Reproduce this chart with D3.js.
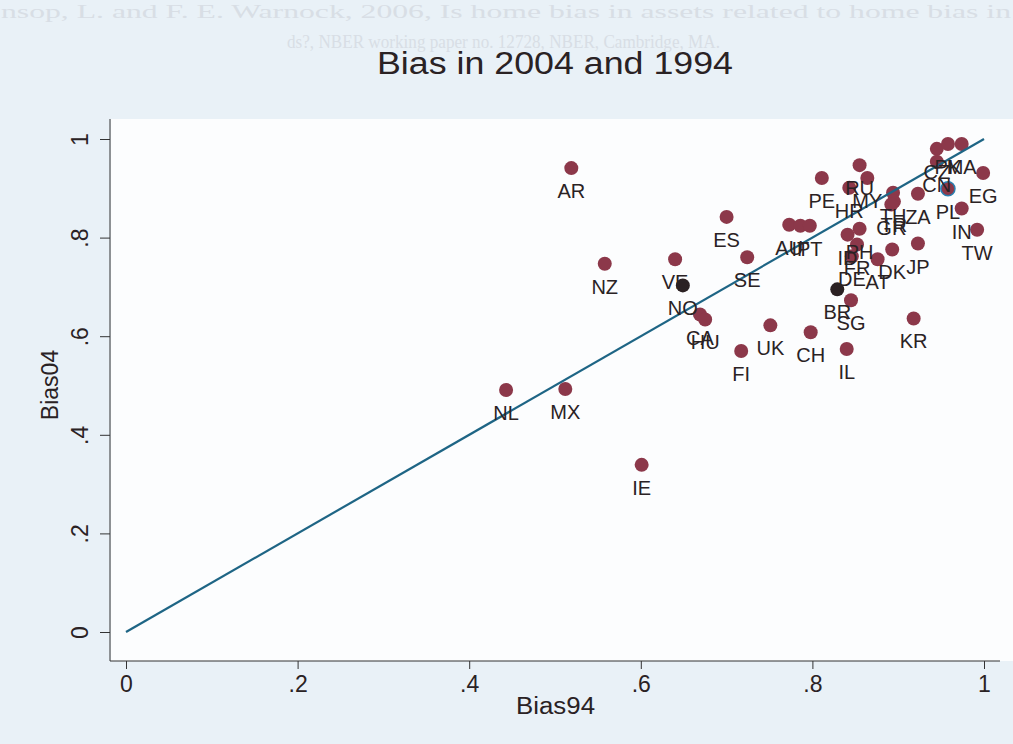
<!DOCTYPE html>
<html><head><meta charset="utf-8">
<script src="https://cdn.jsdelivr.net/npm/d3@7"></script>
<style>body{margin:0;background:#e9f1f7;}svg{display:block;}</style>
</head><body>
<svg id="c" width="1013" height="744"></svg>
<script>
const countries = ["AR","NZ","VE","NO","ES","SE","CA","HU","FI","UK","CH","IL","KR","SG","BR","NL","MX","IE",
  "AU","IT","PT","PE","HR","RU","MY","TH","TR","GR","ZA","CZ","PK","MA","CN","EG","PL","IN","TW",
  "ID","FR","PH","DE","AT","DK","JP"];
const bias94 = [0.519,0.558,0.640,0.649,0.700,0.724,0.669,0.675,0.717,0.751,0.798,0.840,0.918,0.845,0.829,0.443,0.512,0.601,
  0.773,0.786,0.797,0.811,0.843,0.855,0.864,0.894,0.895,0.892,0.923,0.945,0.958,0.974,0.945,0.999,0.958,0.974,0.992,
  0.841,0.852,0.855,0.846,0.876,0.893,0.923];
const bias04 = [0.941,0.747,0.756,0.703,0.842,0.760,0.644,0.634,0.570,0.622,0.608,0.574,0.636,0.673,0.695,0.491,0.493,0.339,
  0.826,0.824,0.824,0.921,0.901,0.947,0.921,0.891,0.873,0.867,0.889,0.980,0.990,0.990,0.954,0.931,0.899,0.859,0.816,
  0.806,0.786,0.818,0.762,0.756,0.776,0.788];
const darkMarkers = ["NO","BR"];
const ringMarkers = ["PL"];
const xTicks = [0,0.2,0.4,0.6,0.8,1];
const yTicks = [0,0.2,0.4,0.6,0.8,1];
const tickLabels = ["0",".2",".4",".6",".8","1"];

const FONT = "Liberation Sans, Arial, sans-serif";
const INK = "#2a2224";
const svg = d3.select("#c");
const x = d3.scaleLinear().domain([0,1]).range([126,984]);
const y = d3.scaleLinear().domain([0,1]).range([632,139]);

// faint bleed-through text from the scanned page
svg.append("text").attr("x",1).attr("y",18).attr("font-family","Liberation Serif").attr("font-size",18)
  .attr("fill","#d8dee5").attr("textLength",1010).attr("lengthAdjust","spacingAndGlyphs")
  .text("nsop, L. and F. E. Warnock, 2006, Is home bias in assets related to home bias in");
svg.append("text").attr("x",287).attr("y",48).attr("font-family","Liberation Serif").attr("font-size",18)
  .attr("fill","#d8dee5").attr("textLength",433).attr("lengthAdjust","spacingAndGlyphs")
  .text("ds?, NBER working paper no. 12728, NBER, Cambridge, MA.");

// plot region
svg.append("rect").attr("x",111).attr("y",119).attr("width",902).attr("height",542).attr("fill","#fcfdfe");

// title
svg.append("text").attr("x",377).attr("y",74)
  .attr("font-family",FONT).attr("font-size",31).attr("fill",INK)
  .attr("textLength",356).attr("lengthAdjust","spacingAndGlyphs")
  .text("Bias in 2004 and 1994");

// axes
const xAxis = d3.axisBottom(x).tickValues(xTicks).tickFormat((d,i)=>tickLabels[i]).tickSize(8).tickSizeOuter(0);
const gx = svg.append("g").attr("transform","translate(0,661)").call(xAxis);
gx.select(".domain").attr("d","M110,0H1000").attr("stroke","#333");
gx.selectAll(".tick line").attr("stroke","#333");
gx.selectAll(".tick text").attr("font-family",FONT).attr("font-size",23).attr("fill",INK)
  .attr("y",31).attr("dy",0);

const yAxis = d3.axisLeft(y).tickValues(yTicks).tickFormat((d,i)=>tickLabels[i]).tickSize(10).tickSizeOuter(0);
const gy = svg.append("g").attr("transform","translate(110,0)").call(yAxis);
gy.select(".domain").attr("d","M0,119V661").attr("stroke","#333");
gy.selectAll(".tick line").attr("stroke","#333");
gy.selectAll(".tick text").attr("font-family",FONT).attr("font-size",23).attr("fill",INK)
  .attr("transform","rotate(-90)").attr("x",0).attr("y",-22).attr("dy","0").attr("text-anchor","middle");

svg.append("text").attr("x",516).attr("y",714)
  .attr("font-family",FONT).attr("font-size",23).attr("fill",INK)
  .attr("textLength",79).attr("lengthAdjust","spacingAndGlyphs").text("Bias94");
svg.append("text").attr("transform","translate(58,385) rotate(-90)").attr("text-anchor","middle")
  .attr("font-family",FONT).attr("font-size",23).attr("fill",INK).text("Bias04");

// points
const data = countries.map((c,i)=>({c, x:bias94[i], y:bias04[i]}));
svg.append("g").selectAll("circle").data(data).join("circle")
  .attr("cx",d=>x(d.x)).attr("cy",d=>y(d.y)).attr("r",7)
  .attr("fill",d=>darkMarkers.includes(d.c)?"#2b2123":"#8c384a")
  .attr("stroke",d=>ringMarkers.includes(d.c)?"#2a7fb0":"none").attr("stroke-width",1.5);

// 45 degree line
svg.append("path").datum([[0,0],[1,1]])
  .attr("d",d3.line().x(d=>x(d[0])).y(d=>y(d[1])))
  .attr("stroke","#1e6585").attr("stroke-width",2.2).attr("fill","none");

// labels
svg.append("g").selectAll("text").data(data).join("text")
  .attr("x",d=>x(d.x)).attr("y",d=>y(d.y)+30).attr("text-anchor","middle")
  .attr("font-family",FONT).attr("font-size",20).attr("fill",INK)
  .text(d=>d.c);
</script>
</body></html>
